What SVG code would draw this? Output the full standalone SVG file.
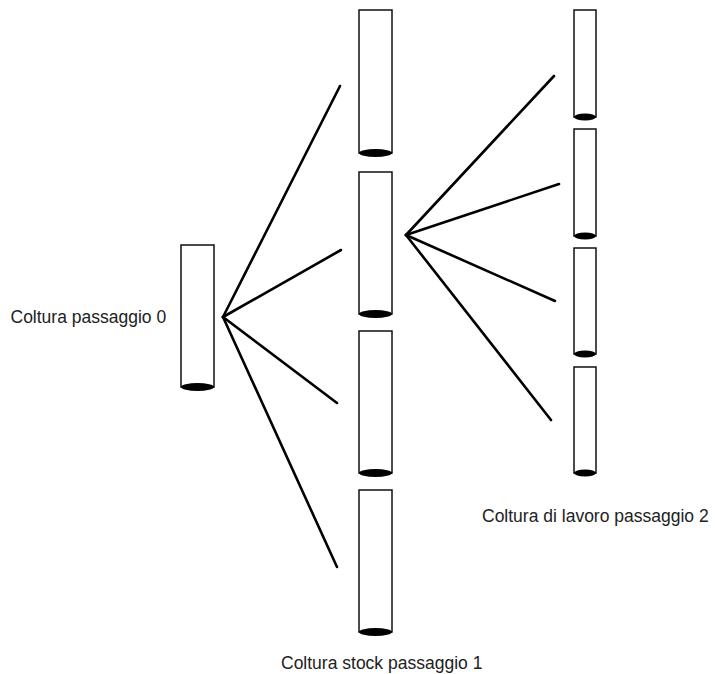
<svg xmlns="http://www.w3.org/2000/svg" width="715" height="674" viewBox="0 0 715 674">
<style>
.tube{fill:#fff;stroke:#111;stroke-width:1.5}
.btm{fill:#000}
.ln{stroke:#000;stroke-width:2.6;stroke-linecap:round;fill:none}
.lbl{font-family:"Liberation Sans",Arial,sans-serif;font-size:17.5px;fill:#222}
</style>
<rect width="715" height="674" fill="#fff"/>
<g id="connectors">
<line class="ln" x1="223" y1="317" x2="340" y2="86"/>
<line class="ln" x1="223" y1="317" x2="341" y2="250"/>
<line class="ln" x1="223" y1="317" x2="337" y2="403"/>
<line class="ln" x1="223" y1="317" x2="337" y2="567"/>
<line class="ln" x1="406" y1="235" x2="554" y2="76"/>
<line class="ln" x1="406" y1="235" x2="559" y2="184"/>
<line class="ln" x1="406" y1="235" x2="555" y2="301"/>
<line class="ln" x1="406" y1="235" x2="551" y2="420"/>
</g>
<g id="tube0">
<rect class="tube" x="181" y="245" width="33" height="142"/>
<ellipse class="btm" cx="197.5" cy="387" rx="16.5" ry="4"/>
</g>
<g id="tube1a">
<rect class="tube" x="359" y="10" width="33" height="143"/>
<ellipse class="btm" cx="375.5" cy="153" rx="16.5" ry="4"/>
</g>
<g id="tube1b">
<rect class="tube" x="359" y="172" width="33" height="142"/>
<ellipse class="btm" cx="375.5" cy="314" rx="16.5" ry="4"/>
</g>
<g id="tube1c">
<rect class="tube" x="359" y="331" width="33" height="142"/>
<ellipse class="btm" cx="375.5" cy="473" rx="16.5" ry="4"/>
</g>
<g id="tube1d">
<rect class="tube" x="359" y="490" width="33" height="142"/>
<ellipse class="btm" cx="375.5" cy="632" rx="16.5" ry="4"/>
</g>
<g id="tube2a">
<rect class="tube" x="574" y="10" width="22" height="107"/>
<ellipse class="btm" cx="585" cy="117" rx="11" ry="3.5"/>
</g>
<g id="tube2b">
<rect class="tube" x="574" y="129" width="22" height="107"/>
<ellipse class="btm" cx="585" cy="236" rx="11" ry="3.5"/>
</g>
<g id="tube2c">
<rect class="tube" x="574" y="248" width="22" height="106"/>
<ellipse class="btm" cx="585" cy="354" rx="11" ry="3.5"/>
</g>
<g id="tube2d">
<rect class="tube" x="574" y="367" width="22" height="106"/>
<ellipse class="btm" cx="585" cy="473" rx="11" ry="3.5"/>
</g>
<g id="labels">
<text class="lbl" x="10.5" y="322.5">Coltura passaggio 0</text>
<text class="lbl" x="281" y="669">Coltura stock passaggio 1</text>
<text class="lbl" x="482" y="521.5">Coltura di lavoro passaggio 2</text>
</g>
</svg>
